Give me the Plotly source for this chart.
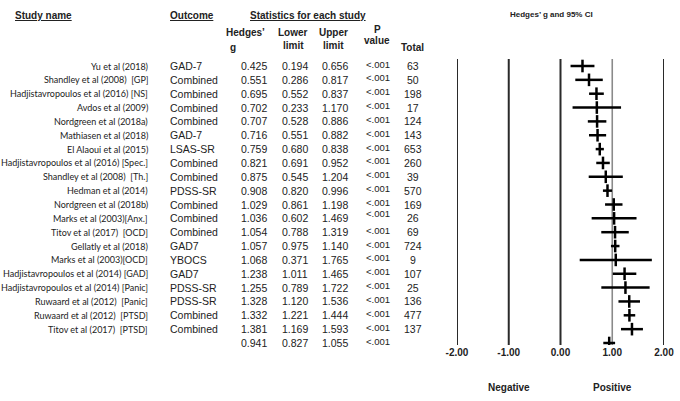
import plotly.graph_objects as go

studies = ["Yu et al (2018)", "Shandley et al (2008)  [GP]", "Hadjistavropoulos et al (2016) [NS]",
           "Avdos et al (2009)", "Nordgreen et al (2018a)", "Mathiasen et al (2018)", "El Alaoui et al (2015)",
           "Hadjistavropoulos et al (2016) [Spec.]", "Shandley et al (2008)  [Th.]", "Hedman et al (2014)",
           "Nordgreen et al (2018b)", "Marks et al (2003)[Anx.]", "Titov et al (2017)  [OCD]",
           "Gellatly et al (2018)", "Marks et al (2003)[OCD]", "Hadjistavropoulos et al (2014) [GAD]",
           "Hadjistavropoulos et al (2014) [Panic]", "Ruwaard et al (2012)  [Panic]",
           "Ruwaard et al (2012)  [PTSD]", "Titov et al (2017)  [PTSD]", ""]
outcomes = ["GAD-7", "Combined", "Combined", "Combined", "Combined", "GAD-7", "LSAS-SR", "Combined",
            "Combined", "PDSS-SR", "Combined", "Combined", "Combined", "GAD7", "YBOCS", "GAD7",
            "PDSS-SR", "PDSS-SR", "Combined", "Combined", ""]
hedges_g = [0.425, 0.551, 0.695, 0.702, 0.707, 0.716, 0.759, 0.821, 0.875, 0.908, 1.029, 1.036,
            1.054, 1.057, 1.068, 1.238, 1.255, 1.328, 1.332, 1.381, 0.941]
lower = [0.194, 0.286, 0.552, 0.233, 0.528, 0.551, 0.680, 0.691, 0.545, 0.820, 0.861, 0.602,
         0.788, 0.975, 0.371, 1.011, 0.789, 1.120, 1.221, 1.169, 0.827]
upper = [0.656, 0.817, 0.837, 1.170, 0.886, 0.882, 0.838, 0.952, 1.204, 0.996, 1.198, 1.469,
         1.319, 1.140, 1.765, 1.465, 1.722, 1.536, 1.444, 1.593, 1.055]
p_values = ["<.001"] * 21
totals = ["63", "50", "198", "17", "124", "143", "653", "260", "39", "570", "169", "26", "69",
          "724", "9", "107", "25", "136", "477", "137", ""]
tick_vals = [-2, -1, 0, 1, 2]
tick_text = ["-2.00", "-1.00", "0.00", "1.00", "2.00"]

W, H = 680, 401
def px(x): return x / W
def py(y): return 1 - y / H

rows = list(range(len(hedges_g)))

fig = go.Figure()

for v in tick_vals:
    fig.add_shape(type="line", xref="x", yref="y domain", x0=v, x1=v, y0=0, y1=1,
                  line=dict(color="#8a8a8a" if v == 1 else "#2a2a2a", width=1.6 if v == 1 else 2), layer="below")

cx, cy = [], []
for r, lo, hi in zip(rows, lower, upper):
    cx += [lo, hi, None]
    cy += [r, r, None]
fig.add_trace(go.Scatter(x=cx, y=cy, mode="lines", line=dict(color="black", width=2.5),
                         hoverinfo="skip", showlegend=False))
fig.add_trace(go.Scatter(x=hedges_g, y=rows, mode="markers",
                         marker=dict(symbol="line-ns", size=9, line=dict(color="black", width=2.5)),
                         showlegend=False))

ann = []
name_font = dict(family="Lato", size=9, color="#222")
num_font = dict(family="Liberation Sans", size=10.5, color="#222")

for r in rows:
    if studies[r]:
        ann.append(dict(x=px(150), y=r, xref="paper", yref="y", text=studies[r], xanchor="right",
                        yanchor="middle", showarrow=False, font=name_font))
    if outcomes[r]:
        ann.append(dict(x=px(168), y=r, xref="paper", yref="y", text=outcomes[r], xanchor="left",
                        yanchor="middle", showarrow=False, font=num_font))
    for xc, vals in [(254, hedges_g), (295, lower), (335, upper)]:
        ann.append(dict(x=px(xc), y=r, xref="paper", yref="y", text=f"{vals[r]:.3f}", xanchor="center",
                        yanchor="middle", showarrow=False, font=num_font))
    ann.append(dict(x=px(378), y=r, xref="paper", yref="y", text=p_values[r], xanchor="center",
                    yanchor="middle", showarrow=False, font=dict(family="Liberation Sans", size=9.5, color="#222"),
                    yshift=5 if r == 11 else 2))
    if totals[r]:
        ann.append(dict(x=px(413), y=r, xref="paper", yref="y", text=totals[r], xanchor="center",
                        yanchor="middle", showarrow=False, font=num_font))

def hdr(text, x, y, anchor="center", size=10):
    ann.append(dict(x=px(x), y=py(y), xref="paper", yref="paper", text=text, xanchor=anchor,
                    yanchor="middle", showarrow=False, font=dict(family="Liberation Sans", size=size, color="#222")))

hdr("<b><u>Study name</u></b>", 13, 15, "left")
hdr("<b><u>Outcome</u></b>", 168, 15, "left")
hdr("<b><u>Statistics for each study</u></b>", 248, 15, "left")
hdr("<b>Hedges’</b>", 245, 33)
hdr("<b>g</b>", 233, 47)
hdr("<b>Lower</b>", 293, 33)
hdr("<b>limit</b>", 293, 46)
hdr("<b>Upper</b>", 333, 33)
hdr("<b>limit</b>", 333, 46)
hdr("<b>P</b>", 377, 29)
hdr("<b>value</b>", 377, 41)
hdr("<b>Total</b>", 413, 47)
hdr("<b>Hedges’ g and 95% CI</b>", 551, 14, size=8)

for xv, label in [(-1, "Negative"), (1, "Positive")]:
    ann.append(dict(x=xv, y=py(387), xref="x", yref="paper", text=f"<b>{label}</b>", showarrow=False,
                    xanchor="center", yanchor="middle", font=dict(family="Liberation Sans", size=10, color="#222")))

y_top_px, y_bot_px, row0_px, step = 59, 345, 66, 13.85
fig.update_layout(
    width=W, height=H, margin=dict(l=0, r=0, t=0, b=0, autoexpand=False),
    paper_bgcolor="white", plot_bgcolor="white",
    xaxis=dict(domain=[px(457), px(664)], range=[-2, 2], tickvals=tick_vals,
               ticktext=[f"<b>{t}</b>" for t in tick_text], showgrid=False, zeroline=False,
               showline=False, ticks="", automargin=False,
               tickfont=dict(family="Liberation Sans", size=10, color="#222")),
    yaxis=dict(domain=[py(y_bot_px), py(y_top_px)],
               range=[(y_bot_px - row0_px) / step, (y_top_px - row0_px) / step],
               visible=False, showgrid=False, zeroline=False, automargin=False),
    annotations=ann, hovermode=False,
)
fig.write_html("out.html", config=dict(displayModeBar=False, staticPlot=True),
               post_script="document.body.style.margin='0';")
